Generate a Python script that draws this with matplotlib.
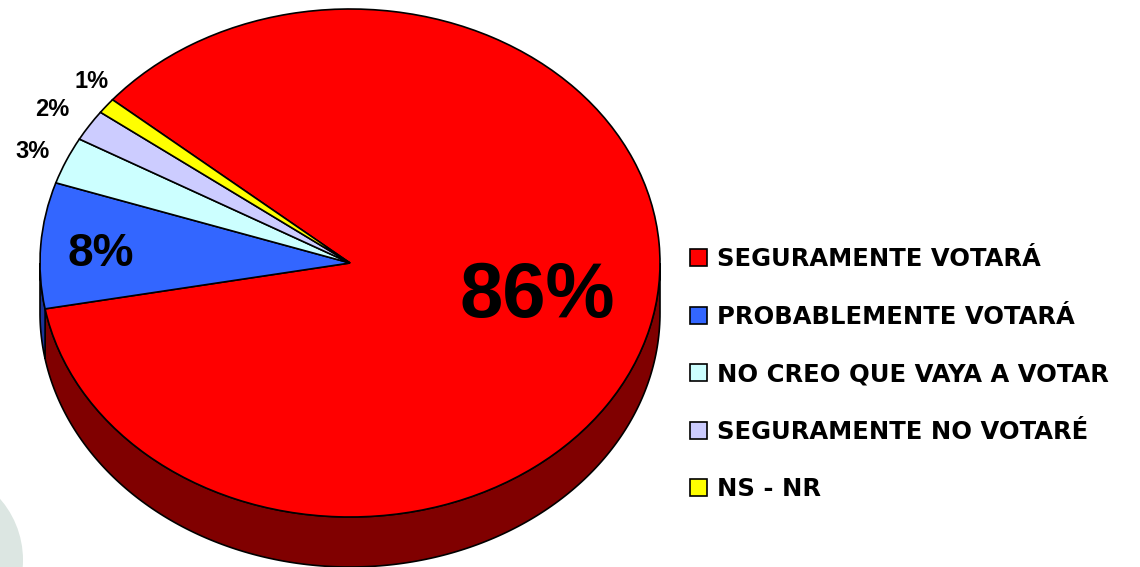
import numpy as np
import matplotlib
matplotlib.use("Agg")
import matplotlib.pyplot as plt
from matplotlib.patches import Ellipse

categories = ["SEGURAMENTE VOTARÁ", "PROBABLEMENTE VOTARÁ", "NO CREO QUE VAYA A VOTAR",
              "SEGURAMENTE NO VOTARÉ", "NS - NR"]
values = [86, 8, 3, 2, 1]
labels = ["86%", "8%", "3%", "2%", "1%"]
colors = ["#FF0000", "#3366FF", "#CCFFFF", "#CCCCFF", "#FFFF00"]
side_colors = ["#800000", "#1A3399", "#66807F", "#666680", "#808000"]

W, H = 1140, 567
fig = plt.figure(figsize=(W / 100, H / 100), dpi=100)
ax = fig.add_axes([0, 0, 1, 1])

# ellipse geometry (pixels): center, radii, depth
sy = 254 / 310
cx, cy = 350, (H - 263) / sy
r = 310
depth = 50 / sy

wedges, _ = ax.pie(values, colors=colors, startangle=140, counterclock=False,
                   center=(cx, cy), radius=r,
                   wedgeprops=dict(edgecolor="black", linewidth=1.2, zorder=3))

# side of the 3D disc (front half only)
for w, sc in zip(wedges, side_colors):
    for k in (-1, 0, 1):
        a = max(w.theta1 + 360 * k, 180)
        b = min(w.theta2 + 360 * k, 360)
        if b <= a:
            continue
        t = np.radians(np.linspace(a, b, 200))
        xs = cx + r * np.cos(t)
        ys = cy + r * np.sin(t)
        ax.fill(np.r_[xs, xs[::-1]], np.r_[ys, ys[::-1] - depth],
                facecolor=sc, edgecolor="black", linewidth=1.2, zorder=2)

ax.set_aspect("auto")
ax.set_xlim(0, W)
ax.set_ylim(0, H / sy)
ax.axis("off")

def px(x, y):
    return x / W, 1 - y / H

# faint watermark circle at bottom-left
ax.add_patch(Ellipse(px(-70, 560), 186 / W, 186 / H, transform=ax.transAxes,
                     facecolor="#DCE6E2", edgecolor="none", zorder=0))

font = "Liberation Sans"
label_pos = [(537, 296), (101, 254), (33, 152), (52, 110), (92, 82)]
label_size = [56, 33, 17, 17, 17]
for txt, (x, y), fs in zip(labels, label_pos, label_size):
    ax.text(*px(x, y), txt, transform=ax.transAxes, fontsize=fs,
            fontweight="bold", family=font, ha="center", va="center", zorder=5)

leg = ax.legend(wedges, categories, loc="upper left", bbox_to_anchor=px(690, 247),
                frameon=False, prop=dict(family="DejaVu Sans", weight="bold", size=17.5),
                handlelength=0.7, handleheight=0.7, handletextpad=0.4,
                labelspacing=1.38, borderaxespad=0, borderpad=0)

fig.savefig("out.png", dpi=100)
